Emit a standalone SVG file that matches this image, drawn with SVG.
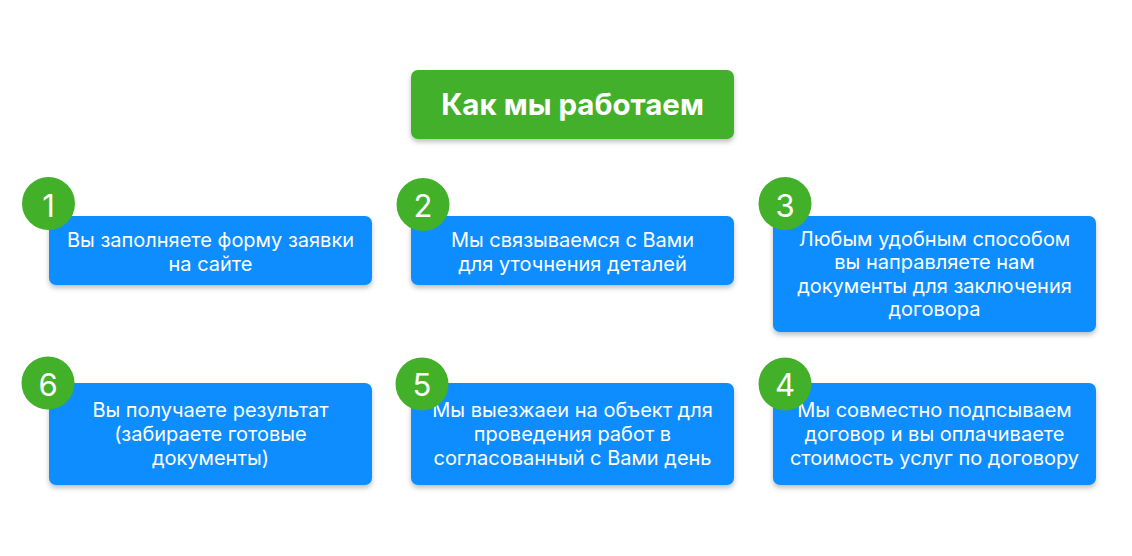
<svg xmlns="http://www.w3.org/2000/svg" width="1132" height="556" viewBox="0 0 1132 556">
<defs>
<filter id="sh" x="-10%" y="-20%" width="120%" height="150%">
<feDropShadow dx="0" dy="3" stdDeviation="2.5" flood-color="#000" flood-opacity="0.25"/>
</filter>
</defs>
<style>
.box{fill:#0A8DFF;filter:url(#sh)}
.title{fill:#43B02A;filter:url(#sh)}
.num{fill:#43B02A}
.t{font-family:Inter,"Noto Sans",sans-serif;font-size:20px;fill:#fff;text-anchor:middle}
.tt{font-family:Inter,"Noto Sans",sans-serif;font-size:29.5px;font-weight:700;fill:#fff;text-anchor:middle}
.n{font-family:Inter,"Noto Sans",sans-serif;font-size:31px;fill:#fff;text-anchor:middle}
</style>
<rect width="1132" height="556" fill="#fff"/>
<g id="connectors"></g>
<g id="title">
<rect class="title" x="411" y="70" width="323" height="69" rx="7"/>
<text class="tt" x="572.5" y="114.5">Как мы работаем</text>
</g>
<g id="step1">
<rect class="box" x="49" y="216" width="323" height="69" rx="7"/>
<text class="t" x="210.5" y="246.5">Вы заполняете форму заявки</text>
<text class="t" x="210.5" y="270.5">на сайте</text>
<circle class="num" cx="48.5" cy="203.5" r="26.5"/>
<text class="n" x="48.5" y="216.5">1</text>
</g>
<g id="step2">
<rect class="box" x="411" y="216" width="323" height="69" rx="7"/>
<text class="t" x="572.5" y="246.5">Мы связываемся с Вами</text>
<text class="t" x="572.5" y="270.5">для уточнения деталей</text>
<circle class="num" cx="423" cy="204.5" r="26.5"/>
<text class="n" x="423" y="216.5">2</text>
</g>
<g id="step3">
<rect class="box" x="773" y="216" width="323" height="116" rx="7"/>
<text class="t" x="934.5" y="245.5">Любым удобным способом</text>
<text class="t" x="934.5" y="269">вы направляете нам</text>
<text class="t" x="934.5" y="292.5">документы для заключения</text>
<text class="t" x="934.5" y="316">договора</text>
<circle class="num" cx="785" cy="203.5" r="26.5"/>
<text class="n" x="785" y="216.5">3</text>
</g>
<g id="step4">
<rect class="box" x="773" y="383" width="323" height="102" rx="7"/>
<text class="t" x="934.5" y="417">Мы совместно подпсываем</text>
<text class="t" x="934.5" y="441">договор и вы оплачиваете</text>
<text class="t" x="934.5" y="465">стоимость услуг по договору</text>
<circle class="num" cx="785" cy="384" r="26.5"/>
<text class="n" x="785" y="396">4</text>
</g>
<g id="step5">
<rect class="box" x="411" y="383" width="323" height="102" rx="7"/>
<text class="t" x="572.5" y="417">Мы выезжаеи на объект для</text>
<text class="t" x="572.5" y="441">проведения работ в</text>
<text class="t" x="572.5" y="465">согласованный с Вами день</text>
<circle class="num" cx="422" cy="384" r="26.5"/>
<text class="n" x="422" y="396">5</text>
</g>
<g id="step6">
<rect class="box" x="49" y="383" width="323" height="102" rx="7"/>
<text class="t" x="210.5" y="417">Вы получаете результат</text>
<text class="t" x="210.5" y="441">(забираете готовые</text>
<text class="t" x="210.5" y="465">документы)</text>
<circle class="num" cx="48" cy="383" r="26.5"/>
<text class="n" x="48" y="396">6</text>
</g>
</svg>
